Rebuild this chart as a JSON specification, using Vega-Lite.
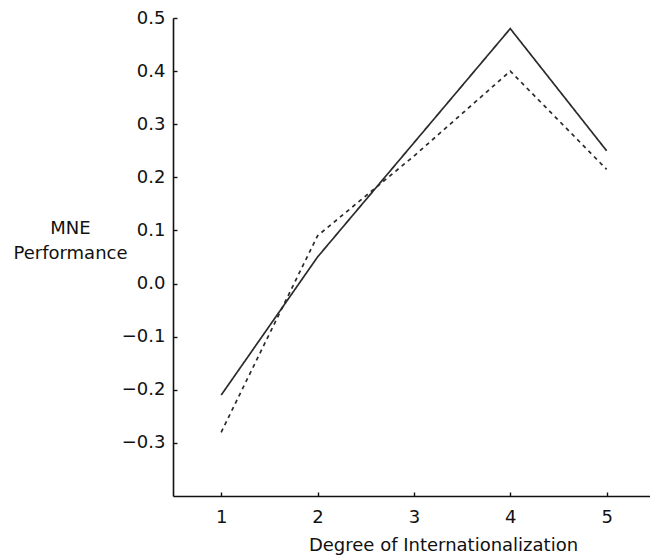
{
  "$schema": "https://vega.github.io/schema/vega-lite/v6.json",
  "width": 477,
  "height": 478,
  "autosize": {"type": "none"},
  "padding": {"left": 173, "top": 18, "right": 0, "bottom": 59},
  "background": "white",
  "config": {
    "view": {"stroke": null},
    "axis": {
      "labelFont": "DejaVu Sans",
      "titleFont": "DejaVu Sans",
      "labelFontSize": 18,
      "titleFontSize": 18,
      "labelColor": "#111",
      "titleColor": "#111",
      "titleFontWeight": "normal",
      "domainColor": "#111",
      "domainWidth": 1.6,
      "tickColor": "#111",
      "tickWidth": 1.4,
      "grid": false
    }
  },
  "data": {
    "values": [
      {"degree": 1, "performance": -0.21, "series": "Line A"},
      {"degree": 2, "performance": 0.05, "series": "Line A"},
      {"degree": 3, "performance": 0.265, "series": "Line A"},
      {"degree": 4, "performance": 0.48, "series": "Line A"},
      {"degree": 5, "performance": 0.25, "series": "Line A"},
      {"degree": 1, "performance": -0.28, "series": "Line B"},
      {"degree": 2, "performance": 0.09, "series": "Line B"},
      {"degree": 3, "performance": 0.24, "series": "Line B"},
      {"degree": 4, "performance": 0.40, "series": "Line B"},
      {"degree": 5, "performance": 0.215, "series": "Line B"}
    ]
  },
  "mark": {"type": "line", "color": "#2a2a2a", "strokeWidth": 1.7},
  "encoding": {
    "x": {
      "field": "degree",
      "type": "quantitative",
      "scale": {"domain": [0.5, 5.45], "nice": false, "zero": false},
      "axis": {
        "values": [1, 2, 3, 4, 5],
        "format": "d",
        "tickSize": -4,
        "labelPadding": 16,
        "title": "Degree of Internationalization",
        "titleX": 270,
        "titleY": 49,
        "titleAlign": "center",
        "titleBaseline": "middle"
      }
    },
    "y": {
      "field": "performance",
      "type": "quantitative",
      "scale": {"domain": [-0.4, 0.5], "nice": false, "zero": false},
      "axis": {
        "values": [-0.3, -0.2, -0.1, 0, 0.1, 0.2, 0.3, 0.4, 0.5],
        "format": ".1f",
        "tickSize": -4,
        "labelPadding": 12,
        "title": ["MNE", "Performance"],
        "titleAngle": 0,
        "titleX": -103,
        "titleY": 201,
        "titleAlign": "center",
        "titleBaseline": "top",
        "titleLineHeight": 25
      }
    },
    "strokeDash": {
      "field": "series",
      "type": "nominal",
      "scale": {"domain": ["Line A", "Line B"], "range": [[1, 0], [4, 4]]},
      "legend": null
    }
  }
}
